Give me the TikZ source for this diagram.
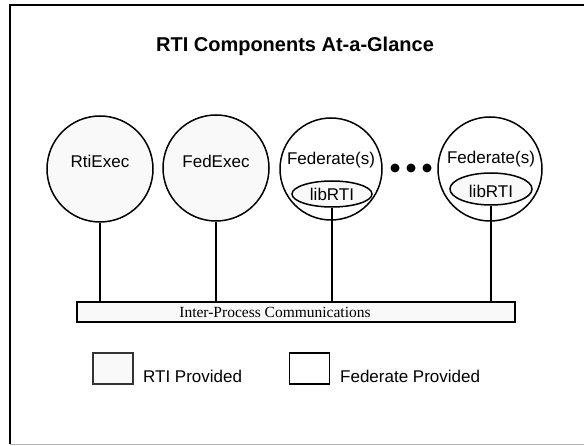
\documentclass[tikz,border=0pt]{standalone}
\usepackage{fontspec}
\setmainfont{Liberation Sans}
\newfontfamily\timesfont{Liberation Serif}
\usetikzlibrary{shapes.geometric}
\definecolor{stipple}{gray}{0.975}
\tikzset{
  comp/.style={circle, draw, line width=1.5pt, inner sep=0pt},
  libell/.style={ellipse, draw, line width=1.5pt, inner sep=0pt, fill=stipple},
  lbl/.style={inner sep=0pt, font=\fontsize{17}{18}\selectfont},
  conn/.style={line width=1.4pt},
  dotn/.style={circle, fill=black, inner sep=0pt, minimum size=9pt},
  legbox/.style={draw, line width=1.2pt, minimum width=40pt, minimum height=31pt, inner sep=0pt},
}
\begin{document}
\begin{tikzpicture}[x=1pt,y=-1pt]
\useasboundingbox (0,0) rectangle (584,446);
% frame
\coordinate (fbl) at (10,444);
\coordinate (ftl) at (10,5);
\coordinate (ftr) at (584,5);
\coordinate (fbr) at (584,444);
\draw[line width=1.5pt] (fbl) -- (ftl) -- (ftr);
\draw[line width=0.8pt, black!30] (fbl) -- (fbr);
% title
\node[inner sep=0pt, anchor=base, font=\bfseries\fontsize{20}{22}\selectfont] (title) at (295,52) {RTI Components At-a-Glance};
% components
\node[comp, minimum size=106pt, fill=stipple] (rti) at (100,169) {};
\node[lbl] (rtit) at (100,161) {RtiExec};
\node[comp, minimum size=106pt, fill=stipple] (fed) at (216,168) {};
\node[lbl] (fedt) at (216,161) {FedExec};
\node[comp, minimum size=102pt] (f1) at (331,169) {};
\node[lbl] (f1t) at (331,160) {Federate(s)};
\node[libell, minimum width=80pt, minimum height=26pt] (l1) at (332,194) {};
\node[lbl] (l1t) at (332,194) {libRTI};
\node[comp, minimum size=104pt] (f2) at (490,169) {};
\node[lbl] (f2t) at (491,159) {Federate(s)};
\node[libell, minimum width=82pt, minimum height=32pt] (l2) at (491,189) {};
\node[lbl] (l2t) at (491,191) {libRTI};
% dots
\node[dotn] (d1) at (395,168) {};
\node[dotn] (d2) at (411,168) {};
\node[dotn] (d3) at (427,168) {};
% bar
\node[draw, line width=1.5pt, fill=stipple, minimum width=438pt, minimum height=20pt, inner sep=0pt] (bar) at (296,312) {};
\node[inner sep=0pt, font=\timesfont\fontsize{15.5}{16}\selectfont] (bart) at (275,312) {Inter-Process Communications};
% connectors
\draw[conn] (rti.south) -- (rti.south |- bar.north);
\draw[conn] (fed.south) -- (fed.south |- bar.north);
\draw[conn] (l1.south) -- (l1.south |- bar.north);
\draw[conn] (l2.south) -- (l2.south |- bar.north);
% legend
\node[legbox, fill=stipple, draw=black!80] (lg1) at (113,368.5) {};
\node[lbl, anchor=base west] (lg1t) at (143,383) {RTI Provided};
\node[legbox] (lg2) at (309.5,368.5) {};
\node[lbl, anchor=base west] (lg2t) at (340,383) {Federate Provided};
\end{tikzpicture}
\end{document}
